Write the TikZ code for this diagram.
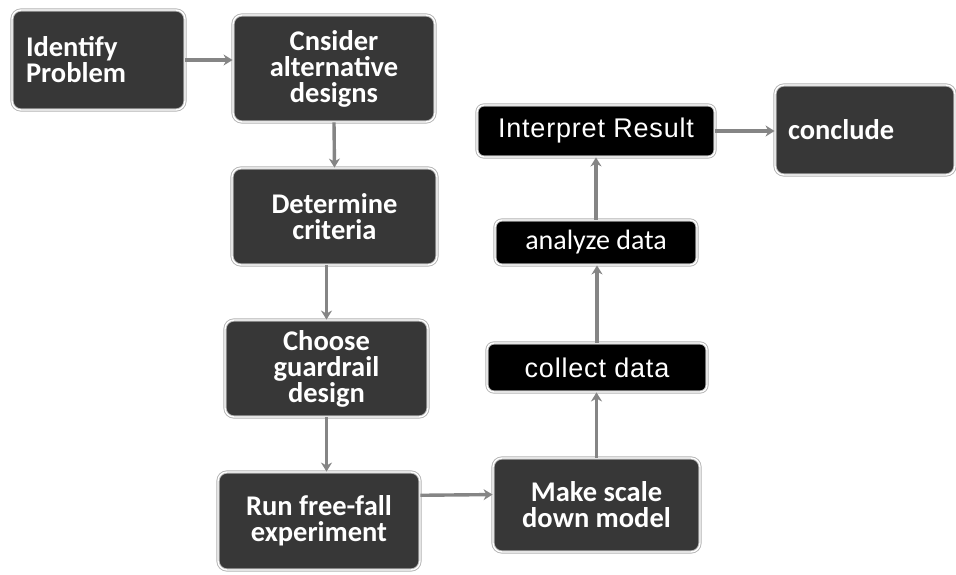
\documentclass[tikz,border=0pt]{standalone}
\usepackage{fontspec}
\newfontfamily\calb{Carlito}
\newfontfamily\arl[LetterSpace=3]{Liberation Sans}
\usetikzlibrary{arrows.meta,calc}
\definecolor{boxgray}{HTML}{373737}
\definecolor{arrgray}{HTML}{858585}
\tikzset{
  stepbox/.style={rectangle, rounded corners=9pt, fill=boxgray, draw=gray!60,
    double=white, double distance=1.4pt, line width=0.9pt,
    text=white, font=\calb\bfseries\fontsize{28.5}{26}\selectfont, align=center,
    inner sep=0pt},
  blackbox/.style={rectangle, rounded corners=7pt, fill=black, draw=gray!60,
    double=white, double distance=1.4pt, line width=0.9pt,
    text=white, align=center, inner sep=0pt},
  arr/.style={draw=arrgray, line width=3.4pt, -{Stealth[length=9pt,width=11pt]}}
}
\begin{document}
\begin{tikzpicture}[x=1pt,y=-1pt]
\useasboundingbox (0,0) rectangle (956,575);
\node[stepbox, minimum width=173pt, minimum height=100pt, text width=145pt, align=left] (ident) at (98.5,60) {Identify\\Problem};
\node[stepbox, minimum width=202pt, minimum height=107pt] (consider) at (334,68.5) {Cnsider\\alternative\\designs};
\node[stepbox, minimum width=205pt, minimum height=97pt] (determine) at (334.5,216.5) {Determine\\criteria};
\node[stepbox, minimum width=203pt, minimum height=97pt] (choose) at (326.5,368.5) {Choose\\guardrail\\design};
\node[stepbox, minimum width=202pt, minimum height=98pt] (run) at (319,521) {Run free-fall\\experiment};
\node[stepbox, minimum width=207pt, minimum height=94pt] (make) at (596.5,505) {Make scale\\down model};
\node[blackbox, minimum width=220pt, minimum height=49pt, font=\arl\fontsize{27}{27}\selectfont] (collect) at (597,367.5) {collect data};
\node[blackbox, minimum width=202pt, minimum height=45pt, font=\calb\fontsize{28}{28}\selectfont] (analyze) at (596,242.5) {analyze data};
\node[blackbox, minimum width=238pt, minimum height=52pt, font=\arl\fontsize{27}{27}\selectfont] (interp) at (596,131) {Interpret Result};
\node[stepbox, minimum width=180pt, minimum height=90pt, text width=154pt, align=left] (conclude) at (865,130) {conclude};

\draw[arr] (ident.east) -- (consider.west |- ident.east);
\draw[arr] (consider.south) -- (determine.north);
\draw[arr] (determine.south -| choose.north) -- (choose.north);
\draw[arr] (choose.south) -- (choose.south |- run.north);
\draw[arr] ($(run.north east)!0.24!(run.south east)$) -- ($(make.north west)!0.39!(make.south west)$);
\draw[arr] (make.north) -- (make.north |- collect.south);
\draw[arr] (collect.north) -- (collect.north |- analyze.south);
\draw[arr] (analyze.north) -- (analyze.north |- interp.south);
\draw[arr] (interp.east) -- (conclude.west |- interp.east);
\end{tikzpicture}
\end{document}
